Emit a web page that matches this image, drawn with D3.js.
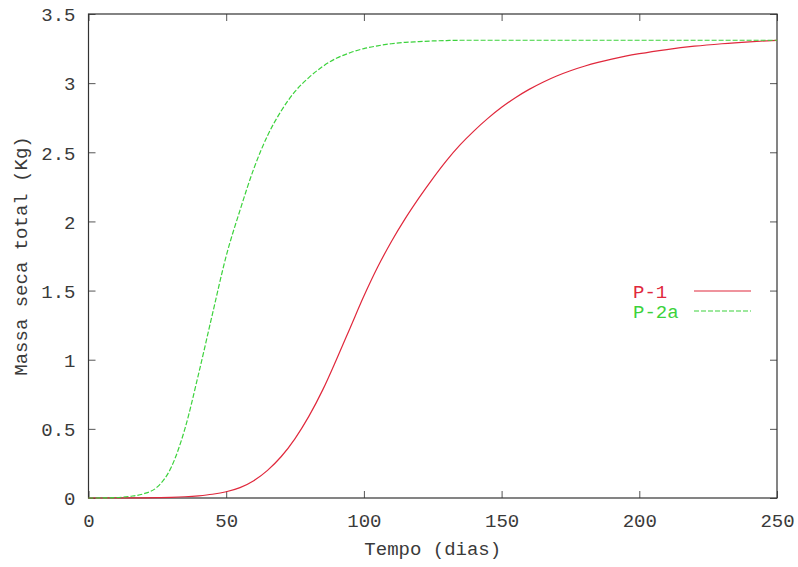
<!DOCTYPE html>
<html>
<head>
<meta charset="utf-8">
<script src="https://cdn.jsdelivr.net/npm/d3@7"></script>
<style>
  html, body { margin: 0; padding: 0; background: #fff; }
  svg { display: block; }
  text { font-family: "Liberation Mono", "DejaVu Sans Mono", monospace; font-size: 19px; fill: #3a3a3a; }
</style>
</head>
<body>
<svg id="chart" width="798" height="567"></svg>
<script>
// ---- data ----
const days = [0, 5, 10, 15, 20, 25, 30, 35, 40, 45, 50, 55, 60, 65, 70, 75, 80, 85, 90, 95,
  100, 105, 110, 115, 120, 125, 130, 135, 140, 145, 150, 155, 160, 165, 170, 175, 180, 185, 190, 195,
  200, 210, 220, 230, 240, 250];
const p1 = [0, 0, 0.0003, 0.0007, 0.0015, 0.003, 0.005, 0.009, 0.016, 0.027, 0.045, 0.075, 0.125, 0.2, 0.3, 0.43, 0.59, 0.78, 1.0, 1.23,
  1.46, 1.67, 1.855, 2.02, 2.17, 2.31, 2.44, 2.555, 2.655, 2.745, 2.825, 2.895, 2.955, 3.007, 3.052, 3.09, 3.122, 3.15, 3.174, 3.195,
  3.213, 3.243, 3.267, 3.285, 3.299, 3.31];
const p2a = [0, 0.0005, 0.003, 0.012, 0.03, 0.08, 0.22, 0.5, 0.9, 1.33, 1.75, 2.08, 2.38, 2.62, 2.8, 2.94, 3.04, 3.12, 3.18, 3.22,
  3.25, 3.27, 3.285, 3.295, 3.3, 3.305, 3.308, 3.31, 3.31, 3.31, 3.31, 3.31, 3.31, 3.31, 3.31, 3.31, 3.31, 3.31, 3.31, 3.31,
  3.31, 3.31, 3.31, 3.31, 3.31, 3.31];
const seriesNames = ["P-1", "P-2a"];
const xTicks = [0, 50, 100, 150, 200, 250];
const yTicks = [0, 0.5, 1, 1.5, 2, 2.5, 3, 3.5];
const xTitle = "Tempo (dias)";
const yTitle = "Massa seca total (Kg)";

// ---- layout ----
const L = 88.5, R = 777, T = 14, B = 498;
const svg = d3.select("#chart");
const x = d3.scaleLinear().domain([0, 250]).range([L, R]);
const y = d3.scaleLinear().domain([0, 3.5]).range([B, T]);

const tickColor = "#555";

function styleAxis(g) {
  g.select(".domain").remove();
  g.selectAll(".tick line").attr("stroke", tickColor).attr("stroke-width", 1);
}

// bottom axis
svg.append("g").attr("transform", `translate(0,${B})`)
  .call(d3.axisBottom(x).tickValues(xTicks).tickSizeInner(-7).tickSizeOuter(0).tickFormat(d3.format("d")))
  .call(styleAxis)
  .call(g => g.selectAll("text").attr("y", 29).attr("dy", 0).attr("fill", null));

// top mirror ticks
svg.append("g").attr("transform", `translate(0,${T})`)
  .call(d3.axisTop(x).tickValues(xTicks).tickSizeInner(-7).tickSizeOuter(0).tickFormat(""))
  .call(styleAxis);

// left axis
svg.append("g").attr("transform", `translate(${L},0)`)
  .call(d3.axisLeft(y).tickValues(yTicks).tickSizeInner(-7).tickSizeOuter(0).tickFormat(d => String(d)))
  .call(styleAxis)
  .call(g => g.selectAll("text").attr("x", -13).attr("dy", "0.36em").attr("fill", null));

// right mirror ticks
svg.append("g").attr("transform", `translate(${R},0)`)
  .call(d3.axisRight(y).tickValues(yTicks).tickSizeInner(-7).tickSizeOuter(0).tickFormat(""))
  .call(styleAxis);

svg.selectAll("g").attr("font-family", null).attr("font-size", null);

// border
svg.append("rect").attr("x", L).attr("y", T).attr("width", R - L).attr("height", B - T)
  .attr("fill", "none").attr("stroke", "#333").attr("stroke-width", 1.2);

// lines
const line = d3.line().x(d => x(d[0])).y(d => y(d[1])).curve(d3.curveMonotoneX);
const colors = ["#e0283c", "#3cd23c"];
const dashes = [null, "5,2"];
const seriesData = [p1, p2a];

seriesData.forEach((vals, i) => {
  svg.append("path")
    .datum(days.map((d, k) => [d, vals[k]]))
    .attr("fill", "none")
    .attr("stroke", colors[i])
    .attr("stroke-width", 1.2)
    .attr("stroke-dasharray", dashes[i])
    .attr("d", line);
});

// legend
const legY = [291, 311];
seriesNames.forEach((name, i) => {
  svg.append("text").attr("x", 633).attr("y", legY[i]).attr("dy", "0.36em")
    .style("fill", colors[i]).text(name);
  svg.append("line").attr("x1", 694).attr("x2", 751).attr("y1", legY[i]).attr("y2", legY[i])
    .attr("stroke", colors[i]).attr("stroke-width", 1.2).attr("stroke-dasharray", dashes[i]);
});

// titles
svg.append("text").attr("x", (L + R) / 2).attr("y", 555).attr("text-anchor", "middle").text(xTitle);
svg.append("text").attr("transform", `translate(20,${(T + B) / 2}) rotate(-90)`)
  .attr("text-anchor", "middle").attr("dy", "0.36em").text(yTitle);
</script>
</body>
</html>
